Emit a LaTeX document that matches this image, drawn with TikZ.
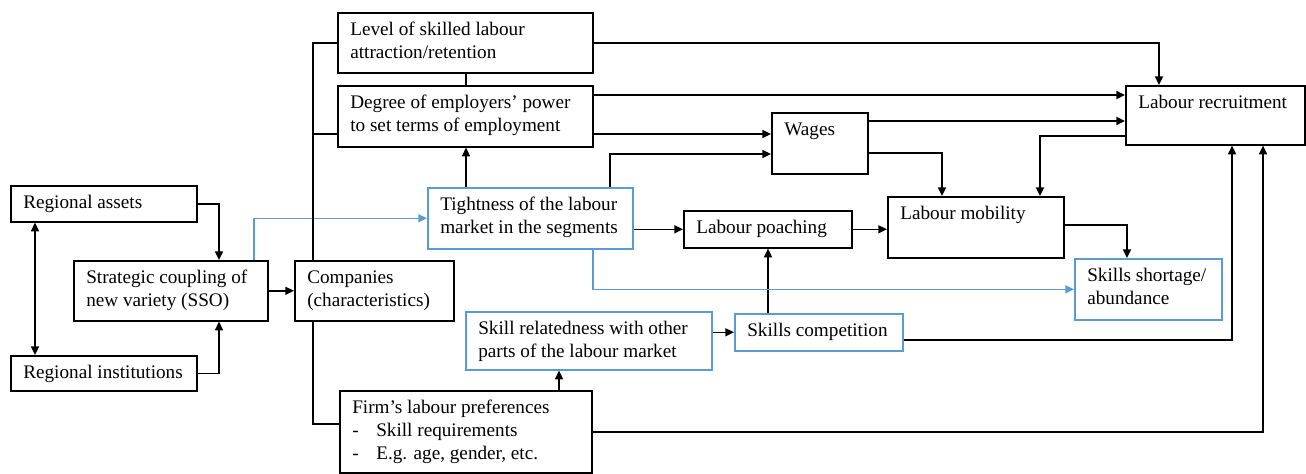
\documentclass[tikz,border=0pt]{standalone}
\usepackage{fontspec}
\setmainfont{Liberation Serif}
\usetikzlibrary{arrows.meta}
\newdimen\px \px=0.75pt
\definecolor{bblue}{RGB}{91,155,213}
\newcommand{\bx}[3]{\parbox[c][#2\px][t]{#1\px}{\raggedright\leftskip=12.5\px\vspace*{5.2pt}\strut #3}}
\tikzset{
  every node/.style={font=\fontsize{14.4pt}{17.25pt}\selectfont},
  box/.style={draw=black, line width=1.2pt, inner sep=0pt, anchor=north west},
  bbox/.style={box, draw=bblue},
  conn/.style={line width=1.2pt, draw=black},
  arr/.style={conn, -{Triangle[length=6.5pt,width=6pt]}},
  barr/.style={arr, draw=bblue},
  dbl/.style={conn, {Triangle[length=6.5pt,width=6pt]}-{Triangle[length=6.5pt,width=6pt]}}
}
\begin{document}
\begin{tikzpicture}[x=0.75pt,y=-0.75pt]
\useasboundingbox (0,0) rectangle (1306,474);
% boxes
\node[box] (ra) at (10,185) {\bx{186}{36}{Regional assets}};
\node[box] (ri) at (10,355) {\bx{186}{35}{Regional institutions}};
\node[box] (sc) at (73,260) {\bx{194}{60}{Strategic coupling of\\new variety (SSO)}};
\node[box] (co) at (294,260) {\bx{159}{60}{Companies\\(characteristics)}};
\node[box] (lv) at (337,12) {\bx{255}{60}{Level of skilled labour\\attraction/retention}};
\node[box] (de) at (337,85) {\bx{255}{61}{Degree of employers’ power\\to set terms of employment}};
\node[bbox] (ti) at (427,187) {\bx{205}{61}{Tightness of the labour\\market in the segments}};
\node[box] (wa) at (771,112) {\bx{96}{61}{Wages}};
\node[box] (lp) at (683,210) {\bx{168}{37}{Labour poaching}};
\node[box] (lm) at (887,196) {\bx{176}{61}{Labour mobility}};
\node[box] (lr) at (1125,85) {\bx{179}{59}{Labour recruitment}};
\node[bbox] (ss) at (1074,258) {\bx{147}{61}{Skills shortage/\\abundance}};
\node[bbox] (sr) at (465,311) {\bx{246}{58}{Skill relatedness with other\\parts of the labour market}};
\node[bbox] (sk) at (734,313) {\bx{168}{37}{Skills competition}};
\node[box] (fp) at (339,390) {\bx{252}{82}{Firm’s labour preferences\\\makebox[24\px][l]{-}Skill requirements\\\makebox[24\px][l]{-}E.g. age, gender, etc.}};
% connectors
\draw[dbl] (35,0 |- ra.south) -- (35,0 |- ri.north);
\draw[arr] (ra.east) -| (219,0 |- sc.north);
\draw[arr] (ri.east) -| (219,0 |- sc.south);
\draw[arr] (sc.east) -- (co.west);
\draw[barr] (254,0 |- sc.north) |- (ti.west);
\draw[conn] (313,0 |- co.north) |- (lv.west);
\coordinate (jd) at (313,134);
\draw[conn] (jd) -- (de.west |- jd);
\draw[conn] (313,0 |- co.south) |- (fp.west |- 0,424);
\draw[conn] (466,0 |- lv.south) -- (466,0 |- de.north);
\draw[arr] (466,0 |- ti.north) -- (466,0 |- de.south);
\draw[arr] (lv.east) -| (1159,0 |- lr.north);
\draw[arr] (de.east |- 0,95) -- (lr.west |- 0,95);
\draw[arr] (de.east |- 0,134) -- (wa.west |- 0,134);
\draw[arr] (610,0 |- ti.north) |- (wa.west |- 0,154);
\draw[arr] (wa.east |- 0,121) -- (lr.west |- 0,121);
\draw[arr] (wa.east |- 0,153) -| (942,0 |- lm.north);
\draw[arr] (lr.west |- 0,136) -| (1040,0 |- lm.north);
\draw[arr] (ti.east |- lp.west) -- (lp.west);
\draw[arr] (lp.east) -- (lm.west |- lp.east);
\draw[arr] (768,0 |- sk.north) -- (768,0 |- lp.south);
\draw[arr] (sr.east |- sk.west) -- (sk.west);
\draw[arr] (559,0 |- fp.north) -- (559,0 |- sr.south);
\draw[arr] (lm.east |- 0,225) -| (1127,0 |- ss.north);
\draw[barr] (593,0 |- ti.south) |- (ss.west);
\draw[arr] (sk.east |- 0,340) -| (1232,0 |- lr.south);
\draw[arr] (fp.east |- 0,432) -| (1263,0 |- lr.south);
\end{tikzpicture}
\end{document}
